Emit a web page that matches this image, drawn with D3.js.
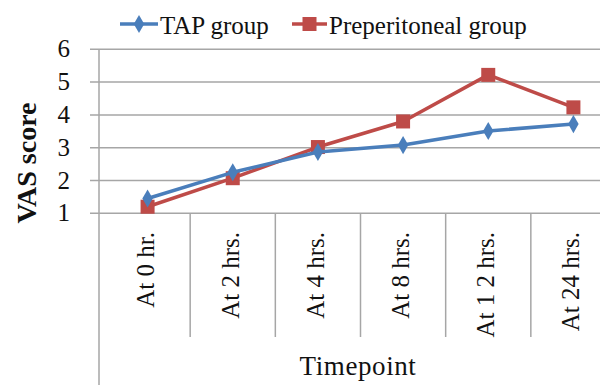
<!DOCTYPE html>
<html><head><meta charset="utf-8">
<script src="https://cdn.jsdelivr.net/npm/d3@7"></script>
<style>html,body{margin:0;padding:0;background:#fff;}svg{display:block;}</style>
</head><body>
<svg id="c" width="600" height="385"></svg>
<script>
const categories = ["At 0 hr.", "At 2 hrs.", "At 4 hrs.", "At 8 hrs.", "At 1 2 hrs.", "At 24 hrs."];
const tapValues = [1.45, 2.25, 2.87, 3.08, 3.51, 3.72];
const preValues = [1.2, 2.07, 3.02, 3.8, 5.22, 4.23];
const seriesNames = ["TAP group", "Preperitoneal group"];
const yTicks = [1, 2, 3, 4, 5, 6];

const svg = d3.select("#c");
const font = "'Liberation Serif', 'Times New Roman', serif";
const blue = "#4a7ebb", red = "#be4b48", grid = "#a6a6a6";

const x = d3.scaleBand().domain(categories).range([105, 616]).paddingInner(0).paddingOuter(0);
const y = d3.scaleLinear().domain([1, 6]).range([213.3, 49.3]);
const axisX = 99;

// gridlines
svg.append("g").selectAll("line").data(yTicks).join("line")
  .attr("x1", 90).attr("x2", 600)
  .attr("y1", d => y(d)).attr("y2", d => y(d))
  .attr("stroke", grid).attr("stroke-width", 1.5);

// y tick labels
svg.append("g").selectAll("text").data(yTicks).join("text")
  .attr("x", 70).attr("y", d => y(d) + 8)
  .attr("text-anchor", "end")
  .attr("font-family", font).attr("font-size", 25)
  .attr("fill", "#111").text(d => d);

// vertical axis
svg.append("line").attr("x1", axisX).attr("x2", axisX).attr("y1", y(6)).attr("y2", 385)
  .attr("stroke", grid).attr("stroke-width", 1.5);

// category separators
svg.append("g").selectAll("line").data(categories.slice(1)).join("line")
  .attr("x1", d => x(d)).attr("x2", d => x(d))
  .attr("y1", y(1)).attr("y2", 337)
  .attr("stroke", grid).attr("stroke-width", 1.5);

// category labels
svg.append("g").selectAll("text").data(categories).join("text")
  .attr("transform", d => `translate(${x(d) + x.bandwidth()/2 + 6},232) rotate(-90)`)
  .attr("text-anchor", "end")
  .attr("font-family", font).attr("font-size", 25)
  .attr("fill", "#111").text(d => d);

// axis titles
svg.append("text").attr("transform", "translate(36,163) rotate(-90)")
  .attr("text-anchor", "middle").attr("font-family", font).attr("font-weight", "bold")
  .attr("font-size", 28).attr("fill", "#111").text("VAS score");
svg.append("text").attr("x", 358).attr("y", 375)
  .attr("text-anchor", "middle").attr("font-family", font)
  .attr("font-size", 27).attr("letter-spacing", 0.6).attr("fill", "#111").text("Timepoint");

const cx = d => x(d) + x.bandwidth()/2;
const line = d3.line().x(d => cx(d.c)).y(d => y(d.v));
const diamond = d3.symbol().type(d3.symbolDiamond).size(95);

function drawSeries(vals, color, shape) {
  const data = categories.map((c, i) => ({c, v: vals[i]}));
  svg.append("path").datum(data).attr("d", line)
    .attr("fill", "none").attr("stroke", color).attr("stroke-width", 3.5)
    .attr("stroke-linejoin", "round");
  if (shape === "diamond") {
    svg.append("g").selectAll("path").data(data).join("path")
      .attr("transform", d => `translate(${cx(d.c)},${y(d.v)})`)
      .attr("d", diamond).attr("fill", color);
  } else {
    svg.append("g").selectAll("rect").data(data).join("rect")
      .attr("x", d => cx(d.c) - 7).attr("y", d => y(d.v) - 7)
      .attr("width", 14).attr("height", 14).attr("fill", color);
  }
}
drawSeries(preValues, red, "square");
drawSeries(tapValues, blue, "diamond");

// legend
const leg = svg.append("g");
const legY = 24;
const legItems = [
  {name: seriesNames[0], color: blue, shape: "diamond", x0: 120, tx: 160},
  {name: seriesNames[1], color: red, shape: "square", x0: 292, tx: 329}
];
legItems.forEach(it => {
  leg.append("line").attr("x1", it.x0).attr("x2", it.tx - 2).attr("y1", legY).attr("y2", legY)
    .attr("stroke", it.color).attr("stroke-width", 3.5);
  const mx = (it.x0 + it.tx - 2) / 2;
  if (it.shape === "diamond") {
    leg.append("path").attr("transform", `translate(${mx},${legY})`).attr("d", diamond).attr("fill", it.color);
  } else {
    leg.append("rect").attr("x", mx - 7).attr("y", legY - 7).attr("width", 14).attr("height", 14).attr("fill", it.color);
  }
  leg.append("text").attr("x", it.tx).attr("y", 34).attr("font-family", font)
    .attr("font-size", 25).attr("fill", "#111").text(it.name);
});
</script>
</body></html>
